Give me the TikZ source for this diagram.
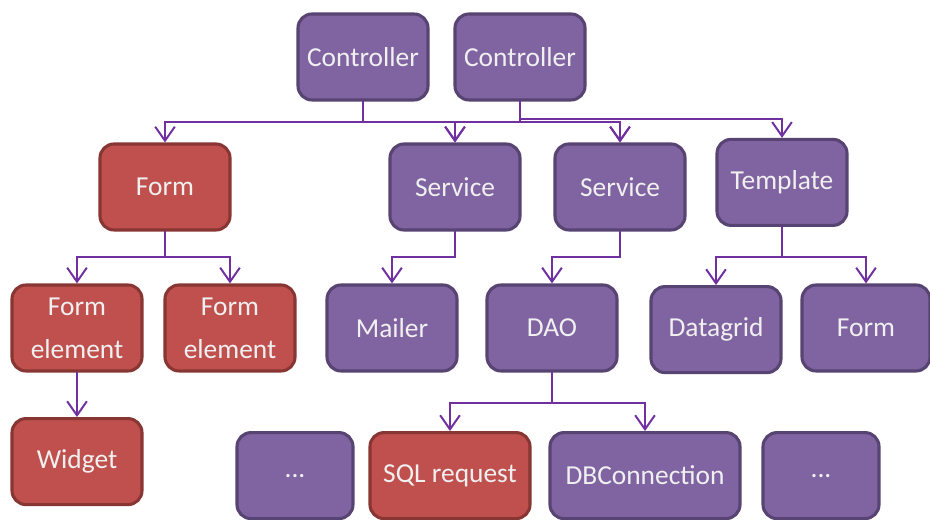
\documentclass[tikz,border=0pt]{standalone}
\usepackage{fontspec}
\setmainfont{Carlito}
\usetikzlibrary{arrows.meta}
\definecolor{boxpurple}{RGB}{128,100,162}
\definecolor{edgepurple}{RGB}{88,68,114}
\definecolor{boxred}{RGB}{192,80,77}
\definecolor{edgered}{RGB}{136,54,52}
\definecolor{linkpurple}{RGB}{112,48,160}

\begin{document}
\begin{tikzpicture}[>={Straight Barb[length=10pt,width=14pt]},line cap=round,
  box/.style={draw=edgepurple,fill=boxpurple,line width=2.2pt,rounded corners=0.35cm,
    minimum width=3.25cm,minimum height=2.15cm,inner sep=2pt,align=center,
    text=white!94!black,font=\fontsize{19.5}{30.5}\selectfont},
  redbox/.style={box,draw=edgered,fill=boxred},
  link/.style={->,draw=linkpurple,line width=1.4pt}]
\useasboundingbox (0,0) rectangle (23.25,13);
\node[box] (ctrlA) at (9.075,11.575) {Controller};
\node[box] (ctrlB) at (13.0,11.575) {Controller};
\node[redbox] (form) at (4.125,8.325) {Form};
\node[box] (servA) at (11.375,8.325) {Service};
\node[box] (servB) at (15.5,8.325) {Service};
\node[box] (tmpl) at (19.55,8.44) {Template};
\node[redbox] (felA) at (1.925,4.8) {Form\\element};
\node[redbox] (felB) at (5.75,4.8) {Form\\element};
\node[box] (mailer) at (9.8,4.8) {Mailer};
\node[box] (dao) at (13.8,4.8) {DAO};
\node[box] (grid) at (17.9,4.76) {Datagrid};
\node[box,minimum width=3.2cm] (formB) at (21.65,4.8) {Form};
\node[redbox] (widget) at (1.925,1.46) {Widget};
\node[box,minimum width=2.9cm] (dotsA) at (7.375,1.11) {...};
\node[redbox,minimum width=4cm] (sql) at (11.25,1.11) {SQL request};
\node[box,minimum width=4.75cm] (dbc) at (16.125,1.11) {DBConnection};
\node[box,minimum width=2.9cm] (dotsB) at (20.525,1.11) {...};
\coordinate (busA) at (0,9.95);
\coordinate (busB) at (0,10.025);
\coordinate (busC) at (0,6.575);
\coordinate (busD) at (0,2.925);
\draw[link] (ctrlA.south) |- (busA -| form) -- (form.north);
\draw[link] (ctrlA.south) |- (busA -| servA) -- (servA.north);
\draw[link] (ctrlA.south) |- (busA -| servB) -- (servB.north);
\draw[link] (ctrlB.south) |- (busA -| servA) -- (servA.north);
\draw[link] (ctrlB.south) |- (busA -| servB) -- (servB.north);
\draw[link] (ctrlB.south) |- (busB -| tmpl) -- (tmpl.north);
\draw[link] (form.south) |- (busC -| felA) -- (felA.north);
\draw[link] (form.south) |- (busC -| felB) -- (felB.north);
\draw[link] (felA) -- (widget);
\draw[link] (servA.south) |- (busC -| mailer) -- (mailer.north);
\draw[link] (servB.south) |- (busC -| dao) -- (dao.north);
\draw[link] (tmpl.south) |- (busC -| grid) -- (grid.north);
\draw[link] (tmpl.south) |- (busC -| formB) -- (formB.north);
\draw[link] (dao.south) |- (busD -| sql) -- (sql.north);
\draw[link] (dao.south) |- (busD -| dbc) -- (dbc.north);
\end{tikzpicture}
\end{document}
